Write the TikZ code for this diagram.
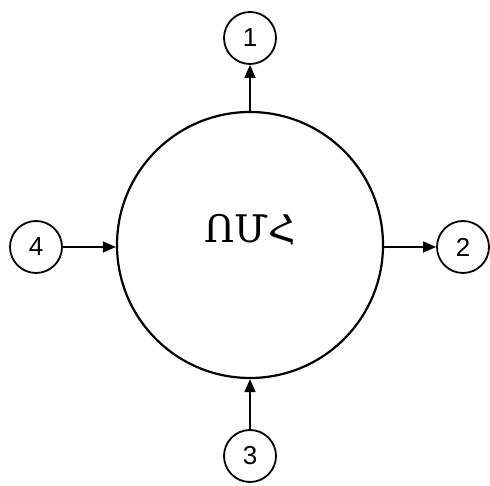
\documentclass[tikz,border=0pt]{standalone}
\usepackage{fontspec}
\setmainfont{Liberation Sans}
\newfontfamily\armfont[Script=Armenian]{DejaVu Serif}
\usetikzlibrary{arrows.meta}
\begin{document}
\begin{tikzpicture}[x=1pt,y=1pt,
  small/.style={draw,circle,line width=1.8pt,minimum size=52pt,inner sep=0pt,font=\fontsize{26}{26}\selectfont},
  big/.style={draw,circle,line width=2.2pt,minimum size=266pt,inner sep=0pt},
  conn/.style={line width=1.4pt,-{Triangle[length=13pt,width=11pt]}}]
\useasboundingbox (0,0) rectangle (490,486);
\node[big] (c) at (250,241) {};
\node[anchor=base] (t) at (250,243) {\armfont\fontsize{38}{38}\selectfont ՈՄՀ};
\node[small] (n1) at (250,448) {1};
\node[small] (n2) at (463,239) {2};
\node[small] (n3) at (250,30) {3};
\node[small] (n4) at (36,239) {4};
\draw[conn] (c.north) -- (n1.south);
\draw[conn] (c.east |- n2) -- (n2.west);
\draw[conn] (n3.north) -- (c.south);
\draw[conn] (n4.east) -- (c.west |- n4);
\end{tikzpicture}
\end{document}
